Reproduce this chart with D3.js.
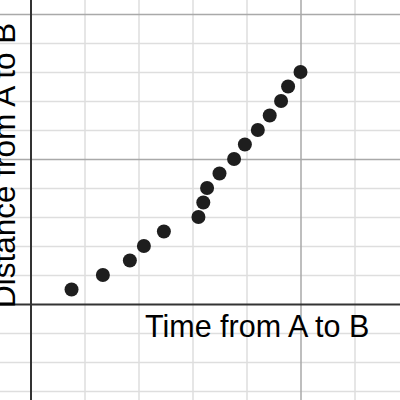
<!DOCTYPE html>
<html>
<head>
<meta charset="utf-8">
<script src="https://cdn.jsdelivr.net/npm/d3@7"></script>
<style>
  body { margin: 0; background: #fff; }
  svg { display: block; }
</style>
</head>
<body>
<div id="fig"></div>
<script>
// data
let timeValues = [0.76, 1.34, 1.84, 2.1, 2.47, 3.11, 3.2, 3.27, 3.5, 3.77, 3.97, 4.21, 4.43, 4.64, 4.77, 5.0];
let distValues = [0.5, 1.0, 1.5, 2.0, 2.5, 3.0, 3.5, 4.0, 4.5, 5.0, 5.5, 6.0, 6.5, 7.0, 7.5, 8.0];
let xMinorTicks = [1, 2, 3, 4, 6];
let xMajorTicks = [5];
let yMinorTicks = [-3, -2, -1, 1, 2, 3, 4, 6, 7, 8, 9];
let yMajorTicks = [5, 10];
let xLabel = 'Time from A to B';
let yLabel = 'Distance from A to B';

let width = 400;
let height = 400;

let svg = d3.select('#fig').append('svg')
    .attr('width', width)
    .attr('height', height);

// origin at (30.5, 304), 54px per x unit, 29px per y unit
let x = d3.scaleLinear()
    .domain([-30.5 / 54, (width - 30.5) / 54])
    .range([0, width]);

let y = d3.scaleLinear()
    .domain([304 / 29, (304 - height) / 29])
    .range([0, height]);

function gridX(ticks, color, w) {
    let g = svg.append('g')
        .attr('transform', `translate(0,${height})`)
        .call(d3.axisBottom(x).tickValues(ticks).tickSize(-height).tickFormat(''));
    g.select('.domain').remove();
    g.selectAll('line').attr('stroke', color).attr('stroke-width', w);
}

function gridY(ticks, color, w) {
    let g = svg.append('g')
        .call(d3.axisRight(y).tickValues(ticks).tickSize(width).tickFormat(''));
    g.select('.domain').remove();
    g.selectAll('line').attr('stroke', color).attr('stroke-width', w);
}

gridX(xMinorTicks, '#dedede', 1.5);
gridY(yMinorTicks, '#dedede', 1.5);
gridX(xMajorTicks, '#a9a9a9', 1.5);
gridY(yMajorTicks, '#a9a9a9', 1.5);
gridX([0], '#333', 2);
gridY([0], '#333', 2);

let pts = timeValues.map((t, i) => ({t: t, d: distValues[i]}));

svg.append('g')
    .selectAll('circle')
    .data(pts)
    .join('circle')
    .attr('cx', d => x(d.t))
    .attr('cy', d => y(d.d))
    .attr('r', 7)
    .attr('fill', '#1e1e1e');

svg.append('text')
    .attr('x', 145)
    .attr('y', 336.5)
    .attr('font-family', 'Liberation Sans, Arial, sans-serif')
    .attr('font-size', 30.5)
    .attr('fill', '#000')
    .text(xLabel);

// the reference clips this label at the left edge too
svg.append('text')
    .attr('transform', 'translate(15,308) rotate(-90)')
    .attr('font-family', 'Liberation Sans, Arial, sans-serif')
    .attr('font-size', 31.5)
    .attr('fill', '#000')
    .text(yLabel);
</script>
</body>
</html>
